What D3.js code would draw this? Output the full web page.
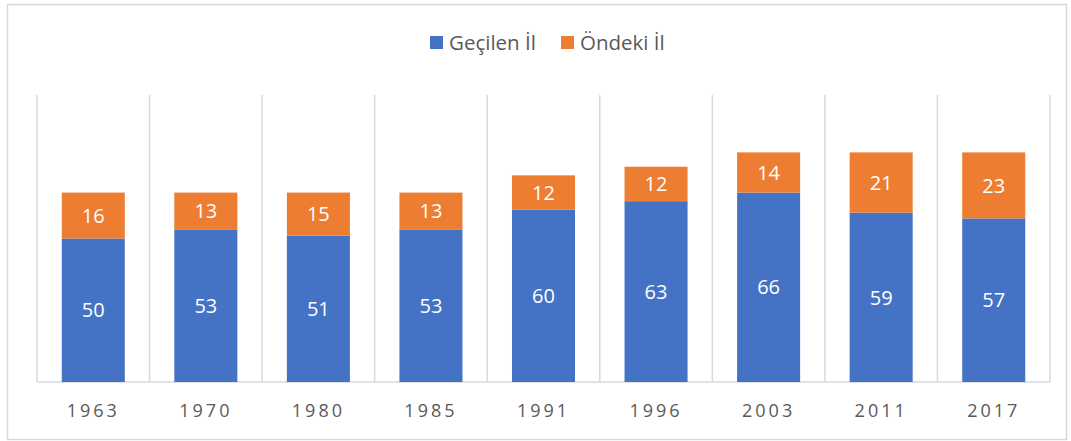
<!DOCTYPE html>
<html>
<head>
<meta charset="utf-8">
<script src="https://cdn.jsdelivr.net/npm/d3@7"></script>
<style>
  html, body { margin: 0; padding: 0; background: #fff; }
  svg { display: block; font-family: "Open Sans", "Noto Sans", sans-serif; }
</style>
</head>
<body>
<svg id="chart" width="1071" height="441"></svg>
<script>
// Election years and the two stacked series
const years = ["1963", "1970", "1980", "1985", "1991", "1996", "2003", "2011", "2017"];
const gecilen = [50, 53, 51, 53, 60, 63, 66, 59, 57];
const ondeki = [16, 13, 15, 13, 12, 12, 14, 21, 23];
const seriesNames = ["Geçilen İl", "Öndeki İl"];
const seriesColors = ["#4472C4", "#ED7D31"];

const svg = d3.select("#chart");
const W = 1071, H = 441;
const margin = { left: 37, right: 21, top: 95, bottom: 59 };

// outer frame
svg.append("rect")
  .attr("x", 7.5).attr("y", 4.5)
  .attr("width", W - 12).attr("height", H - 6)
  .attr("fill", "#fff").attr("stroke", "#d9d9d9").attr("stroke-width", 1.5);

const x = d3.scaleBand()
  .domain(years)
  .range([margin.left, W - margin.right])
  .paddingInner(0.44).paddingOuter(0.22);

const y = d3.scaleLinear()
  .domain([0, 100])
  .range([H - margin.bottom, margin.top]);

const rows = years.map((yr, i) => ({ year: yr, a: gecilen[i], b: ondeki[i] }));
const stack = d3.stack().keys(["a", "b"]);
const layers = stack(rows);

// vertical gridlines at category boundaries
const step = x.step();
const bounds = years.map(yr => x(yr) - (step - x.bandwidth()) / 2);
bounds.push(W - margin.right);
svg.append("g").selectAll("line")
  .data(bounds)
  .join("line")
  .attr("x1", d => d).attr("x2", d => d)
  .attr("y1", y(100)).attr("y2", y(0))
  .attr("stroke", "#d9d9d9").attr("stroke-width", 1.5);

// baseline
svg.append("line")
  .attr("x1", margin.left).attr("x2", W - margin.right)
  .attr("y1", y(0)).attr("y2", y(0))
  .attr("stroke", "#d9d9d9").attr("stroke-width", 1.5);

// stacked bars
const g = svg.append("g");
layers.forEach((layer, li) => {
  g.append("g").selectAll("rect")
    .data(layer)
    .join("rect")
    .attr("x", d => x(d.data.year))
    .attr("width", x.bandwidth())
    .attr("y", d => y(d[1]))
    .attr("height", d => y(d[0]) - y(d[1]))
    .attr("fill", seriesColors[li]);

  g.append("g").selectAll("text")
    .data(layer)
    .join("text")
    .attr("x", d => x(d.data.year) + x.bandwidth() / 2)
    .attr("y", d => (y(d[0]) + y(d[1])) / 2)
    .attr("dy", "0.36em")
    .attr("text-anchor", "middle")
    .attr("fill", "#fff")
    .attr("font-size", 20)
    .text(d => d[1] - d[0]);
});

// category axis
const axis = svg.append("g")
  .attr("transform", `translate(0,${y(0)})`)
  .call(d3.axisBottom(x).tickSize(0).tickPadding(0));
axis.select(".domain").remove();
axis.selectAll("text")
  .attr("y", 35)
  .attr("dy", 0)
  .attr("fill", "#595959")
  .attr("font-size", 18)
  .attr("letter-spacing", "3px")
  .attr("font-family", "\"Open Sans\", \"Noto Sans\", sans-serif");

// legend
const legend = svg.append("g");
const legendItems = [
  { name: seriesNames[0], color: seriesColors[0], x: 430 },
  { name: seriesNames[1], color: seriesColors[1], x: 561 }
];
legendItems.forEach(it => {
  legend.append("rect")
    .attr("x", it.x).attr("y", 36)
    .attr("width", 13).attr("height", 13)
    .attr("fill", it.color);
  legend.append("text")
    .attr("x", it.x + 19).attr("y", 50)
    .attr("fill", "#595959")
    .attr("font-size", 20.5)
    .text(it.name);
});
</script>
</body>
</html>
